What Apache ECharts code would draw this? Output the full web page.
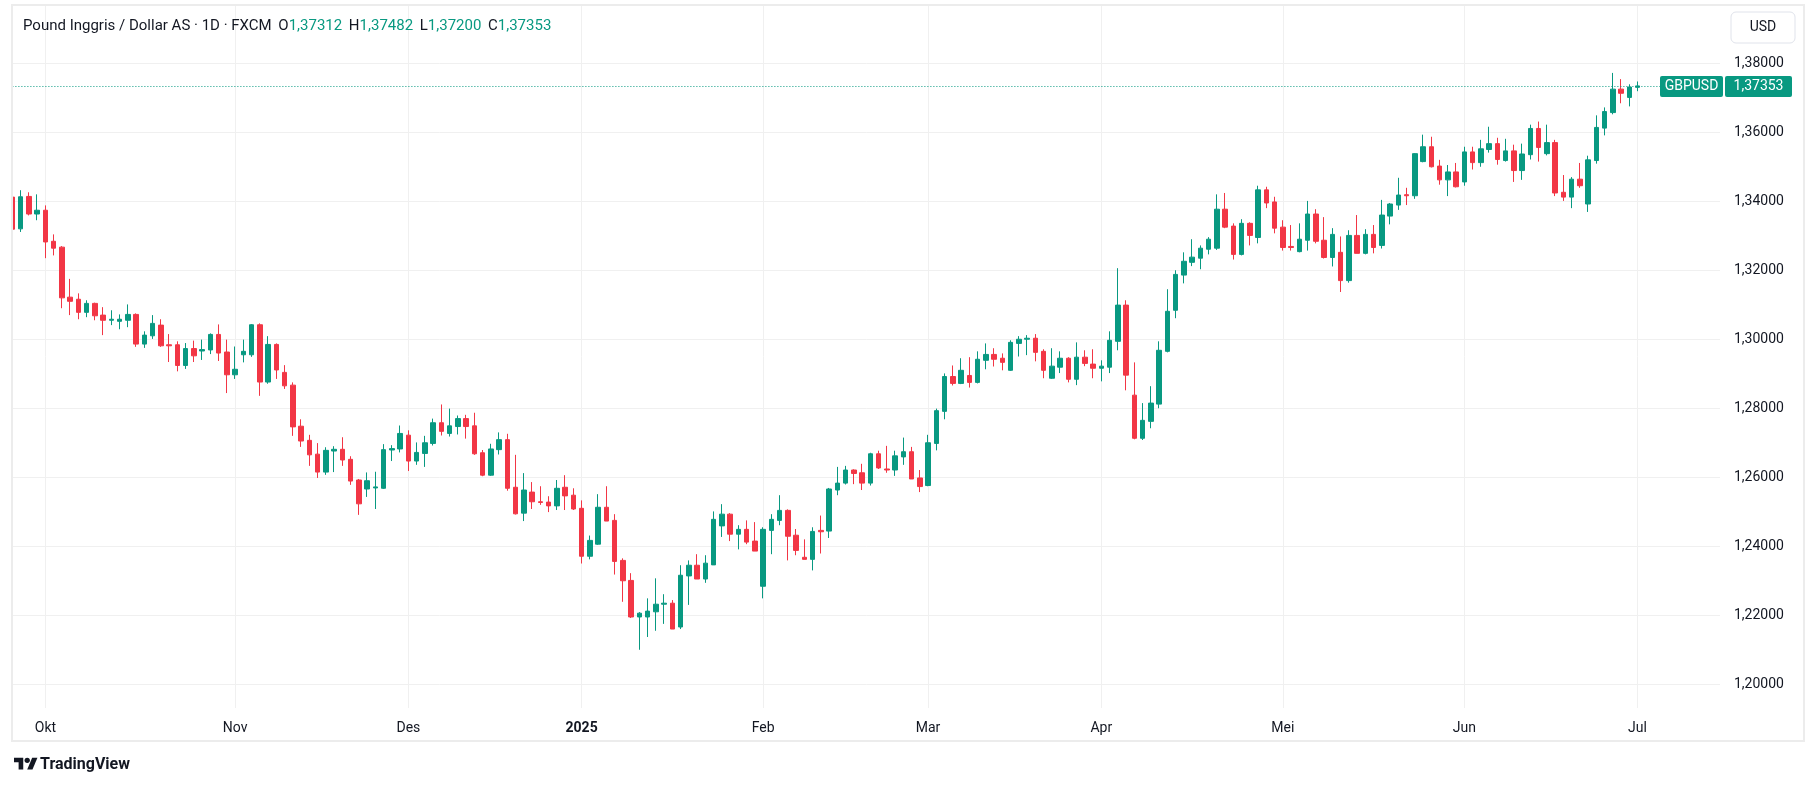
<!DOCTYPE html>
<html>
<head>
    <meta charset="UTF-8">
    <title>GBPUSD 1D</title>
    <style>
        html, body {
            margin: 0;
            padding: 0;
            width: 100%;
            height: 100%;
            background: #ffffff;
        }
        #main {
            width: 1813px;
            height: 787px;
        }
    </style>
    <script src="https://cdn.jsdelivr.net/npm/echarts@6.0.0/dist/echarts.min.js"></script>
</head>
<body>
<div id="main"></div>

<script type="text/javascript">
    // harga harian GBPUSD (FXCM), 25 Sep 2024 - 1 Jul 2025
    var openP = [1.3413, 1.3321, 1.3415, 1.3364, 1.3375, 1.3285, 1.3268, 1.3123, 1.3117, 1.3079,
        1.3105, 1.3071, 1.3056, 1.3053, 1.3056, 1.3073, 1.2987, 1.3011, 1.3042, 1.2985,
        1.2985, 1.2925, 1.2974, 1.2967, 1.2970, 1.3015, 1.2964, 1.2898, 1.2956, 1.2956,
        1.3043, 1.2877, 1.2986, 1.2905, 1.2868, 1.2749, 1.2708, 1.2668, 1.2616, 1.2677,
        1.2682, 1.2653, 1.2593, 1.2567, 1.2570, 1.2569, 1.2680, 1.2683, 1.2723, 1.2648,
        1.2670, 1.2699, 1.2759, 1.2728, 1.2748, 1.2771, 1.2750, 1.2672, 1.2607, 1.2681,
        1.2710, 1.2572, 1.2497, 1.2558, 1.2530, 1.2529, 1.2518, 1.2572, 1.2549, 1.2511,
        1.2372, 1.2407, 1.2514, 1.2476, 1.2360, 1.2302, 1.2196, 1.2196, 1.2211, 1.2233,
        1.2236, 1.2167, 1.2315, 1.2346, 1.2306, 1.2347, 1.2460, 1.2494, 1.2436, 1.2450,
        1.2416, 1.2285, 1.2447, 1.2476, 1.2505, 1.2433, 1.2369, 1.2363, 1.2447, 1.2445,
        1.2564, 1.2584, 1.2622, 1.2614, 1.2584, 1.2669, 1.2625, 1.2622, 1.2660, 1.2675,
        1.2599, 1.2577, 1.2699, 1.2792, 1.2893, 1.2873, 1.2896, 1.2876, 1.2940, 1.2957,
        1.2946, 1.2911, 1.2989, 1.3001, 1.3004, 1.2966, 1.2888, 1.2920, 1.2946, 1.2885,
        1.2949, 1.2929, 1.2917, 1.2920, 1.2995, 1.3100, 1.2839, 1.2714, 1.2763, 1.2813,
        1.2966, 1.3085, 1.3187, 1.3224, 1.3236, 1.3262, 1.3265, 1.3378, 1.3329, 1.3247,
        1.3337, 1.3296, 1.3434, 1.3399, 1.3326, 1.3270, 1.3255, 1.3288, 1.3364, 1.3288,
        1.3238, 1.3253, 1.3171, 1.3302, 1.3250, 1.3305, 1.3273, 1.3358, 1.3390, 1.3420,
        1.3417, 1.3516, 1.3559, 1.3503, 1.3463, 1.3486, 1.3457, 1.3544, 1.3513, 1.3551,
        1.3568, 1.3519, 1.3547, 1.3490, 1.3536, 1.3612, 1.3539, 1.3571, 1.3427, 1.3413,
        1.3465, 1.3393, 1.3519, 1.3613, 1.3658, 1.3726, 1.3702, 1.37312];
    var highP = [1.3420, 1.3433, 1.3427, 1.3421, 1.3389, 1.3305, 1.3271, 1.3176, 1.3134, 1.3114,
        1.3107, 1.3094, 1.3085, 1.3073, 1.3102, 1.3076, 1.3024, 1.3071, 1.3059, 1.3016,
        1.2995, 1.2990, 1.2997, 1.3000, 1.3018, 1.3044, 1.3000, 1.2980, 1.3000, 1.3045,
        1.3047, 1.3010, 1.2989, 1.2926, 1.2876, 1.2769, 1.2724, 1.2700, 1.2688, 1.2691,
        1.2717, 1.2662, 1.2596, 1.2615, 1.2617, 1.2697, 1.2694, 1.2751, 1.2737, 1.2702,
        1.2721, 1.2771, 1.2812, 1.2800, 1.2780, 1.2782, 1.2788, 1.2680, 1.2698, 1.2731,
        1.2727, 1.2666, 1.2613, 1.2587, 1.2575, 1.2546, 1.2593, 1.2607, 1.2569, 1.2534,
        1.2432, 1.2552, 1.2575, 1.2494, 1.2366, 1.2323, 1.2210, 1.2250, 1.2308, 1.2262,
        1.2245, 1.2346, 1.2360, 1.2378, 1.2375, 1.2502, 1.2523, 1.2497, 1.2462, 1.2476,
        1.2471, 1.2456, 1.2494, 1.2549, 1.2508, 1.2451, 1.2421, 1.2456, 1.2490, 1.2570,
        1.2631, 1.2634, 1.2624, 1.2640, 1.2672, 1.2678, 1.2692, 1.2678, 1.2716, 1.2689,
        1.2622, 1.2724, 1.2800, 1.2902, 1.2925, 1.2946, 1.2949, 1.2966, 1.2989, 1.2975,
        1.2960, 1.2998, 1.3010, 1.3013, 1.3016, 1.2972, 1.2975, 1.2966, 1.2949, 1.2992,
        1.2969, 1.2972, 1.2940, 1.3024, 1.3207, 1.3114, 1.2934, 1.2816, 1.2865, 1.2995,
        1.3146, 1.3201, 1.3253, 1.3291, 1.3273, 1.3297, 1.3421, 1.3425, 1.3337, 1.3349,
        1.3340, 1.3446, 1.3443, 1.3414, 1.3346, 1.3332, 1.3337, 1.3402, 1.3378, 1.3355,
        1.3323, 1.3299, 1.3317, 1.3361, 1.3320, 1.3332, 1.3405, 1.3396, 1.3469, 1.3440,
        1.3540, 1.3594, 1.3588, 1.3521, 1.3506, 1.3512, 1.3559, 1.3559, 1.3579, 1.3617,
        1.3585, 1.3582, 1.3565, 1.3568, 1.3623, 1.3632, 1.3623, 1.3579, 1.3477, 1.3471,
        1.3512, 1.3533, 1.3650, 1.3673, 1.3773, 1.3755, 1.3740, 1.37482];
    var lowP = [1.3312, 1.3312, 1.3360, 1.3346, 1.3236, 1.3244, 1.3091, 1.3071, 1.3059, 1.3065,
        1.3056, 1.3013, 1.3042, 1.3030, 1.3036, 1.2979, 1.2976, 1.3002, 1.2979, 1.2935,
        1.2908, 1.2915, 1.2935, 1.2941, 1.2958, 1.2938, 1.2845, 1.2886, 1.2934, 1.2950,
        1.2837, 1.2872, 1.2886, 1.2857, 1.2721, 1.2689, 1.2634, 1.2599, 1.2608, 1.2616,
        1.2634, 1.2579, 1.2492, 1.2544, 1.2509, 1.2567, 1.2648, 1.2673, 1.2619, 1.2637,
        1.2631, 1.2693, 1.2722, 1.2719, 1.2725, 1.2713, 1.2666, 1.2604, 1.2605, 1.2667,
        1.2562, 1.2493, 1.2474, 1.2509, 1.2521, 1.2500, 1.2506, 1.2506, 1.2506, 1.2351,
        1.2363, 1.2405, 1.2474, 1.2319, 1.2240, 1.2193, 1.2101, 1.2138, 1.2156, 1.2176,
        1.2161, 1.2161, 1.2231, 1.2306, 1.2295, 1.2347, 1.2428, 1.2416, 1.2392, 1.2407,
        1.2387, 1.2250, 1.2378, 1.2462, 1.2360, 1.2375, 1.2363, 1.2331, 1.2380, 1.2425,
        1.2549, 1.2580, 1.2581, 1.2564, 1.2577, 1.2625, 1.2614, 1.2605, 1.2637, 1.2596,
        1.2558, 1.2575, 1.2679, 1.2769, 1.2867, 1.2871, 1.2861, 1.2873, 1.2914, 1.2922,
        1.2911, 1.2909, 1.2951, 1.2955, 1.2937, 1.2888, 1.2886, 1.2903, 1.2876, 1.2868,
        1.2923, 1.2888, 1.2879, 1.2903, 1.2969, 1.2853, 1.2711, 1.2709, 1.2743, 1.2801,
        1.2963, 1.3062, 1.3163, 1.3213, 1.3204, 1.3247, 1.3260, 1.3323, 1.3232, 1.3244,
        1.3273, 1.3279, 1.3381, 1.3308, 1.3258, 1.3258, 1.3253, 1.3258, 1.3279, 1.3235,
        1.3212, 1.3138, 1.3165, 1.3250, 1.3247, 1.3250, 1.3264, 1.3334, 1.3376, 1.3390,
        1.3408, 1.3514, 1.3499, 1.3449, 1.3416, 1.3441, 1.3446, 1.3493, 1.3501, 1.3542,
        1.3507, 1.3516, 1.3457, 1.3463, 1.3522, 1.3516, 1.3534, 1.3416, 1.3402, 1.3381,
        1.3440, 1.3370, 1.3510, 1.3592, 1.3653, 1.3685, 1.3676, 1.37200];
    var closeP = [1.3320, 1.3414, 1.3364, 1.3375, 1.3283, 1.3265, 1.3121, 1.3111, 1.3079, 1.3105,
        1.3069, 1.3056, 1.3059, 1.3059, 1.3073, 1.2987, 1.3013, 1.3047, 1.2982, 1.2982,
        1.2925, 1.2974, 1.2953, 1.2971, 1.3015, 1.2961, 1.2898, 1.2914, 1.2966, 1.3043,
        1.2877, 1.2986, 1.2912, 1.2866, 1.2747, 1.2706, 1.2666, 1.2616, 1.2679, 1.2682,
        1.2651, 1.2590, 1.2524, 1.2591, 1.2573, 1.2681, 1.2684, 1.2728, 1.2648, 1.2673,
        1.2701, 1.2759, 1.2734, 1.2750, 1.2771, 1.2748, 1.2669, 1.2607, 1.2683, 1.2710,
        1.2569, 1.2495, 1.2564, 1.2530, 1.2528, 1.2518, 1.2569, 1.2547, 1.2509, 1.2372,
        1.2418, 1.2514, 1.2474, 1.2357, 1.2301, 1.2196, 1.2207, 1.2213, 1.2233, 1.2236,
        1.2161, 1.2317, 1.2346, 1.2306, 1.2352, 1.2479, 1.2494, 1.2436, 1.2450, 1.2413,
        1.2387, 1.2450, 1.2479, 1.2505, 1.2430, 1.2389, 1.2363, 1.2444, 1.2443, 1.2567,
        1.2584, 1.2622, 1.2612, 1.2584, 1.2669, 1.2628, 1.2622, 1.2663, 1.2675, 1.2596,
        1.2574, 1.2701, 1.2794, 1.2893, 1.2873, 1.2911, 1.2876, 1.2943, 1.2957, 1.2943,
        1.2934, 1.2992, 1.3001, 1.3004, 1.2963, 1.2911, 1.2923, 1.2946, 1.2885, 1.2949,
        1.2931, 1.2917, 1.2923, 1.2998, 1.3100, 1.2897, 1.2714, 1.2766, 1.2816, 1.2969,
        1.3082, 1.3189, 1.3227, 1.3239, 1.3265, 1.3291, 1.3378, 1.3326, 1.3247, 1.3337,
        1.3302, 1.3434, 1.3396, 1.3323, 1.3267, 1.3267, 1.3291, 1.3364, 1.3285, 1.3238,
        1.3305, 1.3171, 1.3302, 1.3250, 1.3305, 1.3267, 1.3361, 1.3393, 1.3419, 1.3417,
        1.3539, 1.3559, 1.3501, 1.3463, 1.3486, 1.3443, 1.3544, 1.3513, 1.3553, 1.3568,
        1.3522, 1.3547, 1.3490, 1.3538, 1.3612, 1.3557, 1.3571, 1.3425, 1.3413, 1.3465,
        1.3446, 1.3521, 1.3615, 1.3661, 1.3726, 1.3714, 1.3732, 1.37353];

    // label sumbu y
    var yTicks = [1.20, 1.22, 1.24, 1.26, 1.28, 1.30, 1.32, 1.34, 1.36, 1.38];
    var monthNames = ['Jan', 'Feb', 'Mar', 'Apr', 'Mei', 'Jun', 'Jul', 'Agu', 'Sep', 'Okt', 'Nov', 'Des'];
    var skipDays = ['2024-12-25', '2025-01-01'];
    var slotCount = 208;

    var upColor = '#089981';
    var downColor = '#f23645';
    var gridColor = '#f0f0f0';
    var textColor = '#131722';

    // hari kerja (kategori), termasuk slot kosong di kanan
    var dates = [];
    var d = new Date(Date.UTC(2024, 8, 25));
    while (dates.length < slotCount) {
        var wd = d.getUTCDay();
        var s = d.toISOString().slice(0, 10);
        if (wd !== 0 && wd !== 6 && skipDays.indexOf(s) < 0) {
            dates.push(s);
        }
        d.setUTCDate(d.getUTCDate() + 1);
    }

    function isMonthStart(i) {
        return i > 0 && dates[i].slice(5, 7) !== dates[i - 1].slice(5, 7);
    }

    function fmt(v) {
        return v.toFixed(5).replace('.', ',');
    }

    var candles = [];
    for (var i = 0; i < closeP.length; i++) {
        candles.push([openP[i], closeP[i], lowP[i], highP[i]]);
    }
    var last = closeP.length - 1;
    var lastClose = closeP[last];

    var fontFam = 'Roboto, "Noto Sans", sans-serif';

    // logo TradingView (skala 0.66 dari kotak 36x28)
    function logoPts(pts) {
        return pts.map(function (p) {
            return [14 + p[0] * 0.66, 755 + p[1] * 0.66];
        });
    }

    function createChart() {
        var myChart = echarts.init(document.getElementById('main'));
        var option = {
            animation: false,
            backgroundColor: '#ffffff',
            grid: [{
                // harga
                left: 12.4,
                right: 93,
                top: 63.6,
                bottom: 102.4
            }, {
                // sumbu waktu
                left: 12.4,
                right: 93,
                top: 5,
                bottom: 79
            }],
            xAxis: [{
                type: 'category',
                gridIndex: 0,
                data: dates,
                boundaryGap: false,
                show: false
            }, {
                type: 'category',
                gridIndex: 1,
                data: dates,
                boundaryGap: false,
                axisLine: {show: false},
                axisTick: {show: false},
                axisLabel: {
                    interval: function (idx) {
                        return isMonthStart(idx);
                    },
                    margin: 13,
                    color: textColor,
                    fontSize: 14,
                    fontFamily: fontFam,
                    formatter: function (value) {
                        var m = parseInt(value.slice(5, 7), 10);
                        if (m === 1) {
                            return '{b|' + value.slice(0, 4) + '}';
                        }
                        return monthNames[m - 1];
                    },
                    rich: {
                        b: {fontWeight: 'bold', fontSize: 14, color: textColor, fontFamily: fontFam}
                    }
                },
                splitLine: {
                    show: true,
                    interval: function (idx) {
                        return isMonthStart(idx);
                    },
                    lineStyle: {color: gridColor, width: 1}
                }
            }],
            yAxis: [{
                type: 'value',
                gridIndex: 0,
                position: 'right',
                min: yTicks[0],
                max: yTicks[yTicks.length - 1],
                interval: 0.02,
                axisLine: {show: false},
                axisTick: {show: false},
                axisLabel: {
                    margin: 14,
                    color: textColor,
                    fontSize: 14,
                    fontFamily: fontFam,
                    formatter: function (v) {
                        return fmt(v);
                    }
                },
                splitLine: {lineStyle: {color: gridColor, width: 1}}
            }, {
                type: 'value',
                gridIndex: 1,
                min: 0,
                max: 1,
                show: false
            }],
            series: [{
                name: 'GBPUSD',
                type: 'candlestick',
                xAxisIndex: 0,
                yAxisIndex: 0,
                barWidth: 5,
                data: candles,
                itemStyle: {
                    color: upColor,
                    color0: downColor,
                    borderColor: upColor,
                    borderColor0: downColor,
                    borderWidth: 1
                }
            }]
        };
        myChart.setOption(option);

        var py = Math.round(myChart.convertToPixel({yAxisIndex: 0}, lastClose)) + 0.5;
        var titleText = '{n|Pound Inggris / Dollar AS · 1D · FXCM}  ' +
            '{n|O}{v|' + fmt(openP[last]) + '}  ' +
            '{n|H}{v|' + fmt(highP[last]) + '}  ' +
            '{n|L}{v|' + fmt(lowP[last]) + '}  ' +
            '{n|C}{v|' + fmt(closeP[last]) + '}';

        myChart.setOption({
            graphic: [{
                // garis harga terakhir
                type: 'line',
                z: 50,
                shape: {x1: 12.4, y1: py, x2: 1720, y2: py},
                style: {stroke: upColor, lineWidth: 1, lineDash: [1, 2]}
            }, {
                // tutup bagian kiri bingkai
                type: 'rect',
                z: 100,
                shape: {x: 0, y: 0, width: 11, height: 787},
                style: {fill: '#ffffff'}
            }, {
                type: 'rect',
                z: 101,
                shape: {x: 12, y: 5, width: 1792, height: 736},
                style: {fill: 'none', stroke: '#ececec', lineWidth: 2}
            }, {
                type: 'text',
                z: 102,
                x: 23,
                y: 26,
                style: {
                    text: titleText,
                    verticalAlign: 'middle',
                    rich: {
                        n: {fill: textColor, fontSize: 15, fontFamily: fontFam},
                        v: {fill: upColor, fontSize: 15, fontFamily: fontFam}
                    }
                }
            }, {
                type: 'rect',
                z: 102,
                shape: {x: 1731, y: 12, width: 64, height: 31, r: 5},
                style: {fill: '#ffffff', stroke: '#e0e3eb', lineWidth: 1}
            }, {
                type: 'text',
                z: 103,
                x: 1763,
                y: 27.5,
                style: {
                    text: 'USD', fill: textColor, fontSize: 14, fontFamily: fontFam,
                    align: 'center', verticalAlign: 'middle'
                }
            }, {
                type: 'rect',
                z: 102,
                shape: {x: 1660, y: py - 10.5, width: 63, height: 21, r: 2},
                style: {fill: upColor}
            }, {
                type: 'text',
                z: 103,
                x: 1691.5,
                y: py,
                style: {
                    text: 'GBPUSD', fill: '#ffffff', fontSize: 14, fontFamily: fontFam,
                    align: 'center', verticalAlign: 'middle'
                }
            }, {
                type: 'rect',
                z: 102,
                shape: {x: 1725, y: py - 10.5, width: 67, height: 21, r: 2},
                style: {fill: upColor}
            }, {
                type: 'text',
                z: 103,
                x: 1758.5,
                y: py,
                style: {
                    text: fmt(lastClose), fill: '#ffffff', fontSize: 14, fontFamily: fontFam,
                    align: 'center', verticalAlign: 'middle'
                }
            }, {
                type: 'polygon',
                z: 102,
                shape: {points: logoPts([[14, 22], [7, 22], [7, 11], [0, 11], [0, 4], [14, 4]])},
                style: {fill: textColor}
            }, {
                type: 'polygon',
                z: 102,
                shape: {points: logoPts([[28, 22], [20, 22], [27.5, 4], [35.5, 4]])},
                style: {fill: textColor}
            }, {
                type: 'circle',
                z: 102,
                shape: {cx: 14 + 20 * 0.66, cy: 755 + 8 * 0.66, r: 4 * 0.66},
                style: {fill: textColor}
            }, {
                type: 'text',
                z: 102,
                x: 40,
                y: 765,
                style: {
                    text: 'TradingView', fill: textColor, fontSize: 16, fontWeight: 'bold',
                    fontFamily: fontFam, verticalAlign: 'middle'
                }
            }]
        });
    }

    createChart();
</script>
</body>
</html>
